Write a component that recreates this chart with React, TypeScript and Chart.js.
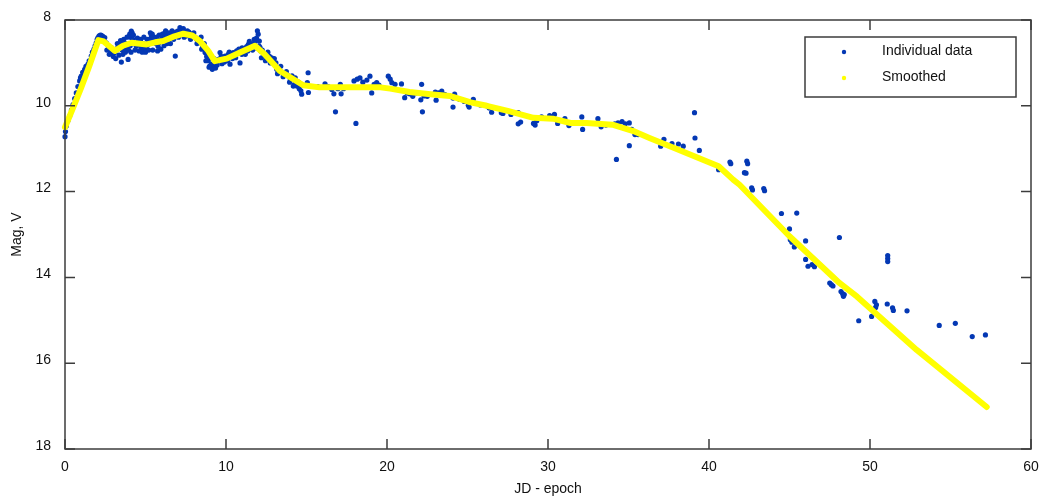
import React, { useEffect, useRef } from "react";
import { Chart, registerables } from "chart.js";

Chart.register(...registerables);

// ---- Data ----
const individualJD = [
  0.0, 0.03, 0.08, 0.18, 0.29, 0.4, 0.5, 0.6, 0.7, 0.8, 0.91, 0.96, 1.01, 1.1, 1.22, 1.3, 1.43, 1.5, 1.63, 1.7,
  1.8, 1.87, 1.94, 2.0, 2.05, 2.12, 2.2, 2.26, 2.35, 2.47, 2.4, 2.56, 2.15, 2.3,
  2.7, 2.88, 2.95, 3.08, 3.2, 3.3, 3.4, 3.5, 3.55, 3.7, 3.8, 3.92, 4.02, 4.07, 4.12, 4.17, 4.22, 4.3, 4.43, 4.55,
  4.65, 4.74, 4.85, 4.95, 5.05, 5.16, 5.25, 5.36, 5.42, 5.57, 5.65, 5.78, 5.88, 5.98, 6.1, 6.2, 6.29, 6.4, 6.5,
  6.6, 6.7, 6.85, 7.0, 7.14, 7.25, 7.35, 7.45, 7.56, 7.7, 7.85, 7.97, 8.08, 8.18, 8.3, 8.39, 8.49, 8.6, 8.7, 8.8,
  8.9, 9.0, 9.1, 9.22, 9.3, 9.42, 9.53, 9.63, 9.7, 9.8, 9.94, 10.05, 10.14, 10.25, 10.3, 10.45, 10.55, 10.66,
  10.75, 10.87, 10.98, 11.08, 11.18, 11.28, 11.39, 11.5, 11.6, 11.7, 11.8, 11.9, 12.0, 12.07, 12.11, 12.15, 12.2,
  12.35, 12.53, 12.7, 12.84, 12.94, 13.1, 13.15, 13.25, 13.35, 13.5, 13.66, 13.87, 14.0, 14.18, 14.3, 14.4, 14.55,
  14.7, 15.05, 15.1, 15.12, 15.4, 15.7, 16.15, 16.35, 16.57, 16.7, 16.8, 16.95, 17.1, 17.15, 17.3, 17.95, 18.07,
  18.15, 18.32, 18.5, 18.75, 18.94, 19.05, 19.2, 19.36, 19.5, 20.08, 20.2, 20.3, 20.5, 20.9, 21.1, 21.25, 21.4,
  21.6, 21.8, 22.15, 22.1, 22.2, 22.3, 22.5, 23.0, 23.05, 23.2, 23.4, 23.6, 24.1, 24.1, 24.2, 24.5, 24.8, 25.05,
  25.1, 25.36, 25.8, 26.2, 26.35, 26.5, 27.1, 27.2, 27.7, 28.15, 28.15, 28.3, 29.1, 29.2, 29.3, 29.6, 30.1, 30.4,
  30.6, 31.05, 31.3, 32.1, 32.15, 33.1, 33.3, 33.6, 34.15, 34.25, 34.35, 34.6, 34.8, 35.05, 35.05, 35.2, 35.4,
  35.6, 37.0, 37.2, 37.7, 38.1, 38.4, 39.1, 39.13, 39.4, 40.6, 41.3, 41.35, 42.2, 42.3, 42.35, 42.4, 42.65, 42.7,
  43.4, 43.45, 44.5, 45.45, 45.0, 45.05, 45.15, 45.3, 46.0, 46.0, 46.15, 46.4, 46.55, 47.5, 47.6, 47.7, 48.1,
  48.2, 48.3, 48.35, 48.4, 49.3, 50.1, 50.3, 50.35, 50.4, 51.1, 51.1, 51.1, 51.07, 51.4, 51.45, 52.3, 54.3, 55.3,
  56.35, 57.17,
  2.6, 2.75, 2.9, 3.0, 3.15, 3.25, 3.35, 3.45, 3.6, 3.65, 3.75, 3.85, 3.95, 4.05, 4.1, 4.25, 4.35, 4.5, 4.6, 4.7,
  4.8, 4.9, 5.0, 5.1, 5.2, 5.3, 5.45, 5.5, 5.7, 5.75, 5.85, 5.95, 6.05, 6.15, 6.25, 6.35, 6.45, 6.55, 6.65, 6.75,
  6.9, 7.05, 7.2, 7.4, 7.6, 7.8, 8.0, 8.2, 8.45, 8.55, 8.65, 8.75, 8.85, 8.95, 9.05, 9.15, 9.25, 9.35, 9.45, 9.6,
  9.75, 9.9, 10.1, 10.2, 10.4, 10.6, 10.8, 11.0, 11.2, 11.35, 11.45, 11.65, 11.75, 11.85, 11.95, 12.05, 12.25,
  12.45, 12.6, 12.75, 13.0, 13.2, 13.4, 13.55, 13.75, 13.95, 14.1, 14.25, 14.5, 14.65,
];
const individualMag = [
  10.72, 10.6, 10.47, 10.35, 10.24, 10.1, 9.97, 9.83, 9.7, 9.55, 9.42, 9.35, 9.31, 9.22, 9.15, 9.08, 9.03, 8.95,
  8.84, 8.75, 8.68, 8.6, 8.53, 8.45, 8.41, 8.37, 8.35, 8.36, 8.38, 8.41, 8.45, 8.53, 8.45, 8.47,
  8.62, 8.72, 8.8, 8.76, 8.68, 8.62, 8.57, 8.98, 8.7, 8.53, 8.65, 8.92, 8.33, 8.4, 8.26, 8.3, 8.45, 8.55, 8.61, 8.5,
  8.58, 8.64, 8.55, 8.68, 8.62, 8.57, 8.45, 8.37, 8.33, 8.45, 8.55, 8.61, 8.52, 8.45, 8.4, 8.3, 8.33, 8.38, 8.41,
  8.35, 8.3, 8.84, 8.26, 8.18, 8.22, 8.2, 8.3, 8.37, 8.28, 8.33, 8.37, 8.4, 8.45, 8.5, 8.53, 8.68, 8.65, 8.76, 8.85,
  8.95, 9.07, 9.03, 9.11, 9.05, 9.0, 8.92, 8.76, 8.85, 8.9, 8.84, 8.92, 8.8, 9.03, 8.85, 8.76, 8.8, 8.72,
  8.78, 9.0, 8.8, 8.72, 8.68, 8.62, 8.57, 8.65, 8.6, 8.55, 8.5, 8.42, 8.33, 8.49, 8.64, 8.72, 8.88,
  8.8, 8.92, 8.85, 8.88, 8.92, 9.0, 9.15, 9.15, 9.19, 9.22, 9.27, 9.3, 9.38, 9.54, 9.35, 9.54, 9.6,
  9.73, 9.46, 9.23, 9.69, 9.55, 9.55, 9.49, 9.55, 9.62, 9.72, 10.14, 9.6, 9.5, 9.72, 9.6, 9.42, 10.41,
  9.38, 9.35, 9.45, 9.4, 9.31, 9.7, 9.5, 9.46, 9.52, 9.31, 9.38, 9.46, 9.5, 9.49, 9.81, 9.7, 9.72,
  9.78, 9.7, 9.5, 9.86, 10.14, 9.77, 9.78, 9.68, 9.87, 9.7, 9.66, 9.74, 9.82, 10.03, 9.73, 9.85, 9.9, 9.99,
  10.03, 9.85, 9.98, 10.0, 10.05, 10.15, 10.16, 10.18, 10.2, 10.16, 10.42, 10.38, 10.41, 10.45, 10.35, 10.26, 10.23, 10.2,
  10.41, 10.3, 10.46, 10.26, 10.55, 10.3, 10.49, 10.45, 10.42, 11.25, 10.4, 10.37, 10.42, 10.4, 10.93, 10.55, 10.67,
  10.67, 10.94, 10.78, 10.88, 10.89, 10.94, 10.16, 10.75, 11.04, 11.49, 11.31, 11.35, 11.56, 11.57, 11.29, 11.35, 11.91, 11.96,
  11.93, 11.98, 12.51, 12.5, 12.87, 13.12, 13.18, 13.29, 13.15, 13.58, 13.74, 13.7, 13.75, 14.13, 14.17, 14.2, 13.07,
  14.33, 14.38, 14.44, 14.4, 15.01, 14.91, 14.56, 14.7, 14.64, 13.49, 13.56, 13.63, 14.62, 14.71, 14.77, 14.78, 15.12, 15.07,
  15.38, 15.34,
  8.7, 8.8, 8.65, 8.85, 8.9, 8.55, 8.82, 8.48, 8.8, 8.45, 8.75, 8.4, 8.7, 8.6, 8.75, 8.35, 8.7, 8.42, 8.72, 8.45,
  8.75, 8.4, 8.75, 8.45, 8.7, 8.3, 8.7, 8.4, 8.4, 8.72, 8.35, 8.68, 8.33, 8.6, 8.25, 8.55, 8.3, 8.55, 8.25, 8.45,
  8.28, 8.4, 8.3, 8.4, 8.25, 8.45, 8.3, 8.55, 8.4, 8.6, 8.55, 8.95, 8.7, 9.1, 8.88, 9.15, 8.9, 9.12, 9.05, 8.95,
  9.02, 8.98, 8.95, 8.75, 8.9, 8.88, 8.68, 8.65, 8.8, 8.72, 8.5, 8.7, 8.45, 8.65, 8.25, 8.6, 8.7,
  8.95, 8.75, 9.0, 8.9, 9.25, 9.08, 9.32, 9.2, 9.45, 9.3, 9.5, 9.45, 9.65,
];

const smoothJD = [
  0, 0.5, 1.0, 1.5, 2.07, 2.4, 3.1, 3.6, 4.14, 5.07, 5.6, 6.1, 6.8, 7.35, 7.9, 8.4, 8.9, 9.3, 10.04, 10.9, 11.8,
  12.4, 13.35, 14.8, 15.8, 17.7, 19.6, 20.2, 21.4, 22.7, 23.9, 25.2, 26.2, 27.5, 29.1, 30.3, 31.4, 32.4, 34.0,
  35.3, 36.3, 37.8, 40.6, 41.5, 41.9, 45.0, 48.1, 49.2, 52.9, 57.25,
];
const smoothMag = [
  10.5, 10.05, 9.58, 9.08, 8.47, 8.5, 8.72, 8.6, 8.53, 8.57, 8.52, 8.49, 8.38, 8.32, 8.36, 8.5, 8.72, 8.96, 8.9,
  8.75, 8.6, 8.8, 9.19, 9.52, 9.57, 9.57, 9.57, 9.6, 9.68, 9.73, 9.77, 9.92, 10.0, 10.12, 10.28, 10.3, 10.4, 10.4,
  10.44, 10.59, 10.75, 10.98, 11.41, 11.72, 11.84, 13.04, 14.13, 14.45, 15.69, 17.02,
];

const xTickValues = [0, 10, 20, 30, 40, 50, 60];
const yTickValues = [8, 10, 12, 14, 16, 18];
const seriesNames = ["Individual data", "Smoothed"];
const xAxisTitle = "JD - epoch";
const yAxisTitle = "Mag, V";

const BLUE = "#0438b4";
const YELLOW = "#ffff00";
const FRAME = "#3c3c3c";
const FONT = "'Liberation Sans', Arial, Helvetica, sans-serif";

const framePlugin = {
  id: "frameTicksLegend",
  afterDraw(chart: any) {
    const { ctx, chartArea, scales } = chart;
    const { left, right, top, bottom } = chartArea;
    const xs = scales.x;
    const ys = scales.y;
    ctx.save();
    ctx.strokeStyle = FRAME;
    ctx.lineWidth = 1.5;
    ctx.strokeRect(left, top, right - left, bottom - top);
    ctx.beginPath();
    const tl = 10;
    xTickValues.forEach((v) => {
      const px = xs.getPixelForValue(v);
      ctx.moveTo(px, bottom);
      ctx.lineTo(px, bottom - tl);
      ctx.moveTo(px, top);
      ctx.lineTo(px, top + tl);
    });
    yTickValues.forEach((v) => {
      const py = ys.getPixelForValue(v);
      ctx.moveTo(left, py);
      ctx.lineTo(left + tl, py);
      ctx.moveTo(right, py);
      ctx.lineTo(right - tl, py);
    });
    ctx.stroke();

    // legend box
    const bx = 805, by = 37, bw = 211, bh = 60;
    ctx.fillStyle = "#ffffff";
    ctx.fillRect(bx, by, bw, bh);
    ctx.lineWidth = 1.5;
    ctx.strokeStyle = FRAME;
    ctx.strokeRect(bx, by, bw, bh);
    const colors = [BLUE, YELLOW];
    const rows = [51, 77];
    ctx.font = `14px ${FONT}`;
    ctx.textBaseline = "middle";
    ctx.textAlign = "left";
    seriesNames.forEach((name, i) => {
      ctx.beginPath();
      ctx.fillStyle = colors[i];
      ctx.arc(844, rows[i] + 1, 2.2, 0, Math.PI * 2);
      ctx.fill();
      ctx.fillStyle = "#111111";
      ctx.fillText(name, 882, rows[i]);
    });
    ctx.restore();
  },
};

export default function App() {
  const canvasRef = useRef<HTMLCanvasElement | null>(null);

  useEffect(() => {
    document.body.style.margin = "0";
    document.body.style.overflow = "hidden";
    const canvas = canvasRef.current;
    if (!canvas) return;
    Chart.defaults.font.family = FONT;
    Chart.defaults.font.size = 14;
    Chart.defaults.color = "#111111";

    const indivPoints = individualJD.map((x, i) => ({ x, y: individualMag[i] }));
    const smoothPoints = smoothJD.map((x, i) => ({ x, y: smoothMag[i] }));

    const chart = new Chart(canvas, {
      type: "scatter",
      data: {
        datasets: [
          {
            label: seriesNames[1],
            data: smoothPoints,
            showLine: true,
            borderColor: YELLOW,
            backgroundColor: YELLOW,
            borderWidth: 6,
            pointRadius: 0,
            borderCapStyle: "round",
            borderJoinStyle: "round",
            tension: 0,
            order: 0,
            clip: false,
          } as any,
          {
            label: seriesNames[0],
            data: indivPoints,
            backgroundColor: BLUE,
            borderColor: BLUE,
            borderWidth: 0,
            pointRadius: 2.6,
            order: 1,
            clip: false,
          } as any,
        ],
      },
      options: {
        animation: false,
        responsive: false,
        devicePixelRatio: 1,
        layout: { padding: { top: 20, right: 11, left: 0, bottom: 0 } },
        plugins: {
          legend: { display: false },
          tooltip: { enabled: false },
        },
        scales: {
          x: {
            type: "linear",
            position: "bottom",
            min: 0,
            max: 60,
            afterBuildTicks: (s: any) => {
              s.ticks = xTickValues.map((v) => ({ value: v }));
            },
            afterFit: (s: any) => {
              s.height = 53;
              s.paddingLeft = 0;
              s.paddingRight = 0;
            },
            grid: { display: false, drawTicks: false },
            border: { display: false },
            ticks: { padding: 10, color: "#111111", font: { size: 14 }, maxRotation: 0 },
            title: {
              display: true,
              text: xAxisTitle,
              color: "#111111",
              font: { size: 14 },
              padding: { top: 0, bottom: 4 },
            },
          },
          y: {
            type: "linear",
            min: 8,
            max: 18,
            reverse: true,
            afterBuildTicks: (s: any) => {
              s.ticks = yTickValues.map((v) => ({ value: v }));
            },
            afterFit: (s: any) => {
              s.width = 65;
              s.paddingTop = 0;
              s.paddingBottom = 0;
            },
            grid: { display: false, drawTicks: false },
            border: { display: false },
            ticks: { padding: 14, labelOffset: -3, color: "#111111", font: { size: 14 } },
            title: {
              display: true,
              text: yAxisTitle,
              color: "#111111",
              font: { size: 14 },
              padding: { top: 9, bottom: 0 },
            },
          },
        },
      },
      plugins: [framePlugin],
    });

    return () => {
      chart.destroy();
    };
  }, []);

  return (
    <div style={{ position: "relative", width: 1042, height: 502, background: "#ffffff" }}>
      <canvas ref={canvasRef} width={1042} height={502} />
    </div>
  );
}
